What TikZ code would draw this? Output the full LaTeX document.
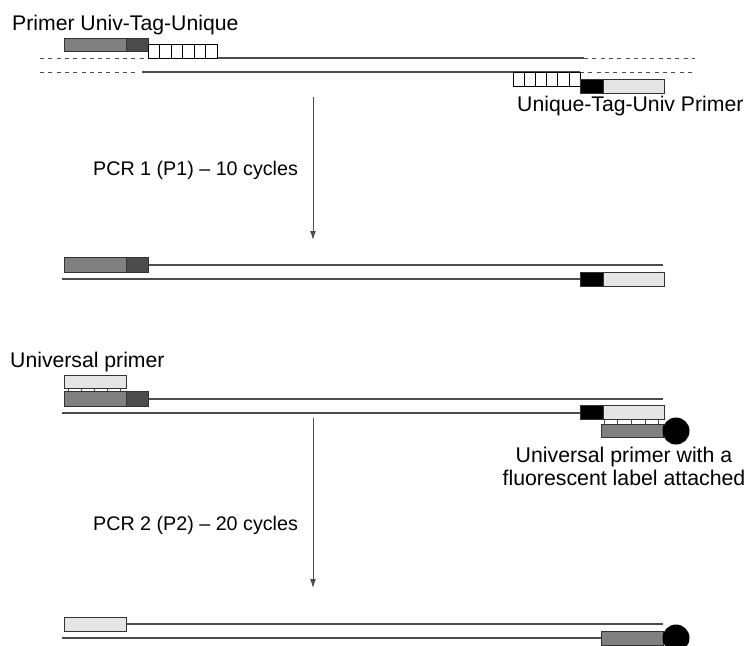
\documentclass[tikz,border=0pt]{standalone}
\usepackage{fontspec}
\setmainfont{Liberation Sans}
\usetikzlibrary{arrows.meta}
\definecolor{gray1}{rgb}{0.5,0.5,0.5}
\definecolor{gray2}{rgb}{0.3,0.3,0.3}
\definecolor{gray3}{rgb}{0.9,0.9,0.9}
\definecolor{line1}{rgb}{0.3,0.3,0.3}

\begin{document}
\begin{tikzpicture}[>={Latex[length=9pt,width=6pt]}, x=1pt, y=-1pt,
  strand/.style={draw=line1, line width=1.1pt},
  dstrand/.style={draw=line1, line width=0.9pt, dash pattern=on 4pt off 4.3pt},
  box/.style={draw=black!80, line width=0.8pt},
  tagbox/.style={draw=black, line width=0.6pt, fill=white},
  lab/.style={font=\fontsize{21.2}{24}\selectfont, inner sep=0pt},
  pcrlab/.style={font=\fontsize{19.7}{24}\selectfont, inner sep=0pt}]

    \useasboundingbox (0,0) rectangle (746,645);

    \node[lab, anchor=base west] (lab1) at (12,30) {Primer Univ-Tag-Unique};
    \draw[dstrand] (40,58) -- (148,58);
    \draw[strand] (148,58) -- (584,58);
    \draw[dstrand] (584,58) -- (695,58);
    \draw[dstrand] (40,72) -- (139,72);
    \draw[strand] (142,72) -- (580,72);
    \draw[dstrand] (580,72) -- (695,72);
    \draw[box, fill=gray1] (64,38) rectangle (126,51);
    \draw[box, fill=gray2] (126,38) rectangle (148,51);
    \foreach \x in {0,...,5} \draw[tagbox] (148+11.5*\x,44) rectangle ++(11.5,14);
    \foreach \x in {0,...,5} \draw[tagbox] (513+11.17*\x,72) rectangle ++(11.17,14.5);
    \draw[box, fill=black] (580,79) rectangle (603,93);
    \draw[box, fill=gray3] (603,79) rectangle (664,93);
    \node[lab, anchor=base west] (lab2) at (517,111) {Unique-Tag-Univ Primer};

    \coordinate (a1) at (313,97);
    \coordinate (a2) at (313,240);
    \draw[->, line1, line width=1pt] (a1) -- (a2);
    \node[pcrlab, anchor=base west] (pcr1) at (93,175) {PCR 1 (P1) -- 10 cycles};

    \draw[strand] (148,265) -- (663,265);
    \draw[strand] (62,279) -- (580,279);
    \draw[box, fill=gray1] (64,257) rectangle (126,272);
    \draw[box, fill=gray2] (126,257) rectangle (148,272);
    \draw[box, fill=black] (580,272) rectangle (603,286);
    \draw[box, fill=gray3] (603,272) rectangle (664,286);

    \node[lab, anchor=base west] (lab3) at (10,367) {Universal primer};
    \foreach \x in {68,81,94,107,120} \draw[line1, line width=0.8pt] (\x,388) -- (\x,391);
    \draw[box, fill=gray3] (64,375) rectangle (126,388);
    \draw[strand] (148,399) -- (663,399);
    \draw[strand] (62,413) -- (580,413);
    \draw[box, fill=gray1] (64,391) rectangle (126,406);
    \draw[box, fill=gray2] (126,391) rectangle (148,406);
    \foreach \x in {604,617,631,645,658} \draw[line1, line width=0.8pt] (\x,419) -- (\x,424);
    \draw[box, fill=black] (580,405) rectangle (603,419);
    \draw[box, fill=gray3] (603,405) rectangle (664,419);
    \draw[box, fill=gray1] (601,424) rectangle (663,437);
    \fill[black] (676,431) circle (13.5);
    \node[lab, align=center, anchor=north, font=\fontsize{21.3}{23}\selectfont] (lab4) at (624,447)
      {Universal primer with a\\fluorescent label attached};

    \coordinate (b1) at (313,418);
    \coordinate (b2) at (313,588);
    \draw[->, line1, line width=1pt] (b1) -- (b2);
    \node[pcrlab, anchor=base west] (pcr2) at (93,530) {PCR 2 (P2) -- 20 cycles};

    \draw[strand] (126,624) -- (663,624);
    \draw[strand] (62,638) -- (601,638);
    \draw[box, fill=gray3] (64,617) rectangle (126,631);
    \draw[box, fill=gray1] (601,631) rectangle (663,645);
    \fill[black] (676,638) circle (13.5);

  \end{tikzpicture}
\end{document}
